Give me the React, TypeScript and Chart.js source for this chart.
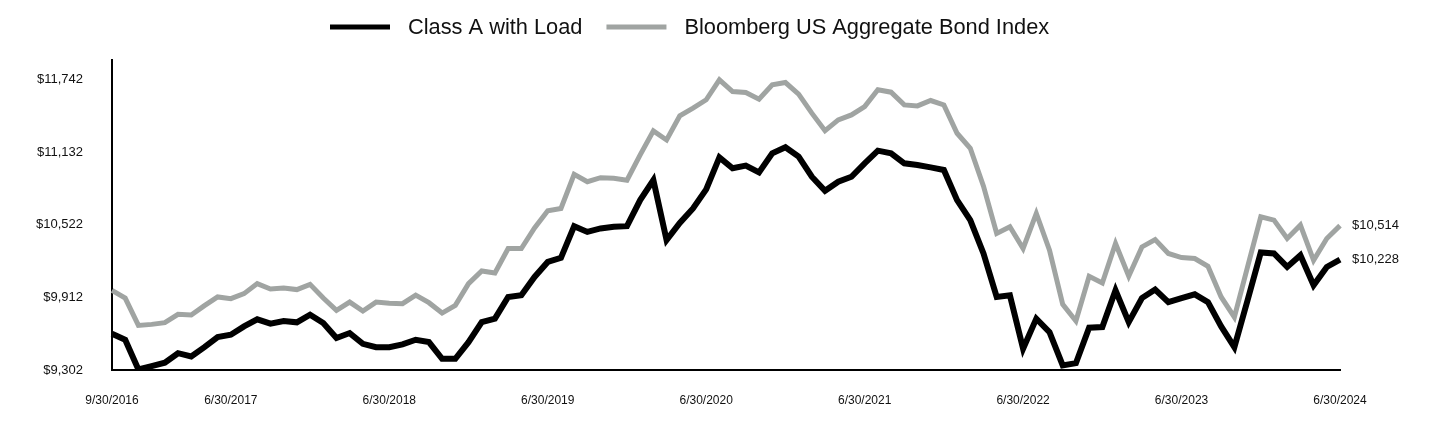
import React, { useEffect, useRef } from "react";
import { Chart, registerables } from "chart.js";

Chart.register(...registerables);

const FONT = "'Liberation Sans', Arial, Helvetica, sans-serif";

const classALabel = "Class A with Load";
const indexLabel = "Bloomberg US Aggregate Bond Index";

const classAColor = "#000000";
const indexColor = "#A0A4A2";

// Month-end dates, 9/30/2016 .. 6/30/2024
const startYear = 2016;
const startMonth = 9;
const monthCount = 94;
const monthEnds = [31, 28, 31, 30, 31, 30, 31, 31, 30, 31, 30, 31];
function buildDates(): string[] {
  const out: string[] = [];
  let y = startYear;
  let m = startMonth;
  for (let i = 0; i < monthCount; i++) {
    let d = monthEnds[m - 1];
    if (m === 2 && y % 4 === 0) d = 29;
    out.push(`${m}/${d}/${y}`);
    m++;
    if (m > 12) {
      m = 1;
      y++;
    }
  }
  return out;
}
const dates = buildDates();

const xTickLabels = [
  "9/30/2016",
  "6/30/2017",
  "6/30/2018",
  "6/30/2019",
  "6/30/2020",
  "6/30/2021",
  "6/30/2022",
  "6/30/2023",
  "6/30/2024",
];

const yTicks = [9302, 9912, 10522, 11132, 11742];
const yMin = 9302;
const yMax = 11904;

const classAValues = [
  9607, 9556, 9306, 9334, 9363, 9443, 9416, 9494, 9578, 9598,
  9668, 9727, 9691, 9713, 9702, 9766, 9696, 9570, 9612, 9522,
  9494, 9494, 9517, 9556, 9536, 9396, 9396, 9536, 9704, 9733,
  9915, 9929, 10083, 10209, 10243, 10509, 10461, 10490, 10504, 10509,
  10728, 10896, 10392, 10537, 10658, 10818, 11087, 10995, 11017, 10961,
  11121, 11172, 11093, 10924, 10806, 10882, 10924, 11037, 11143, 11121,
  11037, 11023, 11003, 10981, 10728, 10560, 10280, 9915, 9929, 9480,
  9733, 9620, 9340, 9359, 9657, 9662, 9971, 9704, 9906, 9977,
  9872, 9906, 9937, 9872, 9668, 9494, 9887, 10288, 10280, 10167,
  10265, 10013, 10167, 10228,
];

const indexValues = [
  9971, 9906, 9676, 9685, 9699, 9769, 9763, 9842, 9915, 9901,
  9943, 10027, 9982, 9990, 9977, 10021, 9906, 9803, 9872, 9797,
  9872, 9862, 9859, 9931, 9867, 9780, 9845, 10027, 10133, 10117,
  10322, 10322, 10495, 10638, 10658, 10944, 10882, 10916, 10911, 10895,
  11107, 11309, 11233, 11435, 11500, 11570, 11738, 11639, 11631, 11575,
  11696, 11715, 11618, 11458, 11311, 11401, 11443, 11513, 11654, 11634,
  11527, 11519, 11564, 11527, 11289, 11163, 10845, 10448, 10504, 10322,
  10616, 10307, 9853, 9713, 10089, 10032, 10364, 10089, 10335, 10397,
  10280, 10246, 10238, 10173, 9915, 9746, 10167, 10588, 10560, 10406,
  10518, 10223, 10406, 10514,
];

function fmtMoney(v: number): string {
  return "$" + Math.round(v).toLocaleString("en-US");
}

const legendPlugin = {
  id: "customLegend",
  afterDraw(chart: any) {
    const ctx = chart.ctx;
    const items = [
      { text: classALabel, color: classAColor },
      { text: indexLabel, color: indexColor },
    ];
    ctx.save();
    ctx.font = `21.8px ${FONT}`;
    ctx.textBaseline = "middle";
    ctx.textAlign = "left";
    let x = 330;
    const y = 27;
    items.forEach((it, idx) => {
      ctx.strokeStyle = it.color;
      ctx.lineWidth = 5;
      ctx.lineCap = "butt";
      ctx.beginPath();
      ctx.moveTo(x, y);
      ctx.lineTo(x + 60, y);
      ctx.stroke();
      x += 78;
      ctx.fillStyle = "#111111";
      ctx.fillText(it.text, x, y + 1);
      x += ctx.measureText(it.text).width + (idx === 0 ? 24 : 0);
    });
    ctx.restore();
  },
};

const endLabelPlugin = {
  id: "endLabels",
  afterDatasetsDraw(chart: any) {
    const ctx = chart.ctx;
    ctx.save();
    ctx.font = `13px ${FONT}`;
    ctx.textBaseline = "middle";
    ctx.textAlign = "left";
    ctx.fillStyle = "#111111";
    chart.data.datasets.forEach((ds: any, i: number) => {
      const meta = chart.getDatasetMeta(i);
      const last = meta.data[meta.data.length - 1];
      if (!last) return;
      const v = ds.data[ds.data.length - 1];
      ctx.fillText(fmtMoney(v), last.x + 12, last.y);
    });
    ctx.restore();
  },
};

export default function App() {
  const canvasRef = useRef<HTMLCanvasElement | null>(null);

  useEffect(() => {
    const prevMargin = document.body.style.margin;
    document.body.style.margin = "0";
    const canvas = canvasRef.current;
    if (!canvas) return;
    const chart = new Chart(canvas, {
      type: "line",
      data: {
        labels: dates,
        datasets: [
          {
            label: classALabel,
            data: classAValues,
            borderColor: classAColor,
            backgroundColor: classAColor,
            borderWidth: 6,
            pointRadius: 0,
            pointHoverRadius: 0,
            tension: 0,
            fill: false,
          },
          {
            label: indexLabel,
            data: indexValues,
            borderColor: indexColor,
            backgroundColor: indexColor,
            borderWidth: 5,
            pointRadius: 0,
            pointHoverRadius: 0,
            tension: 0,
            fill: false,
          },
        ],
      },
      options: {
        responsive: false,
        maintainAspectRatio: false,
        animation: false,
        events: [],
        layout: { padding: { top: 60, right: 100, left: 0, bottom: 0 } },
        plugins: {
          legend: { display: false },
          tooltip: { enabled: false },
          title: { display: false },
        },
        scales: {
          x: {
            type: "category",
            offset: false,
            grid: { display: false, drawTicks: false },
            border: { display: true, color: "#000000", width: 2 },
            ticks: {
              autoSkip: false,
              maxRotation: 0,
              minRotation: 0,
              padding: 23,
              color: "#111111",
              font: { family: FONT, size: 12 },
              callback: (_v: any, i: number) =>
                xTickLabels.includes(dates[i]) ? dates[i] : null,
            },
            afterFit: (scale: any) => {
              scale.height = 62;
            },
          },
          y: {
            type: "linear",
            min: yMin,
            max: yMax,
            grid: { display: false, drawTicks: false },
            border: { display: true, color: "#000000", width: 2 },
            afterBuildTicks: (scale: any) => {
              scale.ticks = yTicks.map((v) => ({ value: v }));
            },
            ticks: {
              padding: 29,
              color: "#111111",
              font: { family: FONT, size: 13 },
              callback: (v: any) => fmtMoney(Number(v)),
            },
            afterFit: (scale: any) => {
              scale.width = 112;
            },
          },
        },
      },
      plugins: [legendPlugin, endLabelPlugin],
    });
    return () => {
      chart.destroy();
      document.body.style.margin = prevMargin;
    };
  }, []);

  return (
    <div style={{ position: "absolute", left: 0, top: 0, width: 1440, height: 432, background: "#ffffff" }}>
      <canvas ref={canvasRef} width={1440} height={432} style={{ display: "block" }} />
    </div>
  );
}
